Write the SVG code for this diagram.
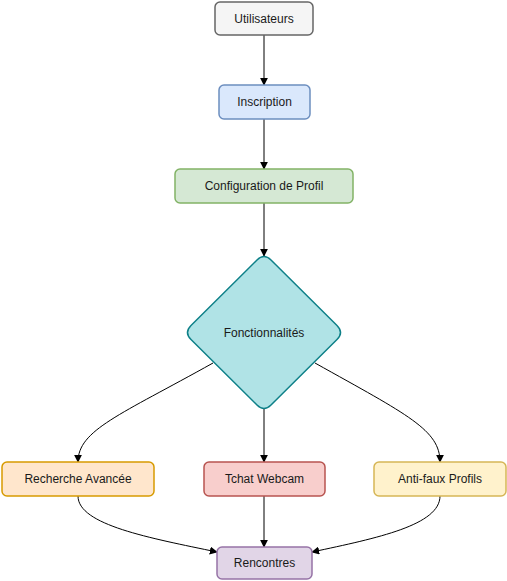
<svg xmlns="http://www.w3.org/2000/svg" width="507" height="581" viewBox="0 0 507 581">
<defs>
<style>
.n{stroke-width:1.5}
.t{font-family:"Liberation Sans",Arial,sans-serif;font-size:12px;fill:#1a1a1a;text-anchor:middle;dominant-baseline:central}
.e{fill:none;stroke:#000;stroke-width:1;marker-end:url(#a)}
</style>
<marker id="a" viewBox="0 0 10 10" refX="9" refY="5" markerWidth="8" markerHeight="8" markerUnits="userSpaceOnUse" orient="auto">
<path d="M0,0 L10,5 L0,10 Z" fill="#000"/>
</marker>
</defs>
<rect width="507" height="581" fill="#fff"/>
<g id="connectors">
<path class="e" d="M264,35 L264,85"/>
<path class="e" d="M264,119 L264,169"/>
<path class="e" d="M264,203 L264,256"/>
<path class="e" d="M213,363 C120,415 78,430 78,462"/>
<path class="e" d="M315,363 C408,415 440,430 440,462"/>
<path class="e" d="M264,409 L264,462"/>
<path class="e" d="M78,496 C78,525 150,538 217,552"/>
<path class="e" d="M440,496 C440,525 378,538 312,552"/>
<path class="e" d="M264,496 L264,547"/>
</g>
<g id="utilisateurs">
<rect class="n" x="215" y="2" width="98" height="33" rx="5" fill="#f5f5f5" stroke="#666666"/>
<text class="t" x="264" y="18.5">Utilisateurs</text>
</g>
<g id="inscription">
<rect class="n" x="219" y="85" width="91" height="34" rx="5" fill="#dae8fc" stroke="#6c8ebf"/>
<text class="t" x="264.5" y="102">Inscription</text>
</g>
<g id="configuration">
<rect class="n" x="175" y="169" width="178" height="34" rx="5" fill="#d5e8d4" stroke="#82b366"/>
<text class="t" x="264" y="186">Configuration de Profil</text>
</g>
<g id="fonctionnalites">
<path class="n" d="M257,260 Q264,253 271,260 L337,325.5 Q344,332.5 337,339.5 L271,405 Q264,412 257,405 L191,339.5 Q184,332.5 191,325.5 Z" fill="#b0e3e6" stroke="#0e8088"/>
<text class="t" x="264" y="332.5">Fonctionnalités</text>
</g>
<g id="recherche">
<rect class="n" x="2" y="462" width="152" height="34" rx="5" fill="#ffe6cc" stroke="#d79b00"/>
<text class="t" x="78" y="479">Recherche Avancée</text>
</g>
<g id="tchat">
<rect class="n" x="204" y="462" width="121" height="34" rx="5" fill="#f8cecc" stroke="#b85450"/>
<text class="t" x="264.5" y="479">Tchat Webcam</text>
</g>
<g id="antifaux">
<rect class="n" x="374" y="462" width="132" height="34" rx="5" fill="#fff2cc" stroke="#d6b656"/>
<text class="t" x="440" y="479">Anti-faux Profils</text>
</g>
<g id="rencontres">
<rect class="n" x="217" y="547" width="95" height="32" rx="5" fill="#e1d5e7" stroke="#9673a6"/>
<text class="t" x="264.5" y="563">Rencontres</text>
</g>
</svg>
